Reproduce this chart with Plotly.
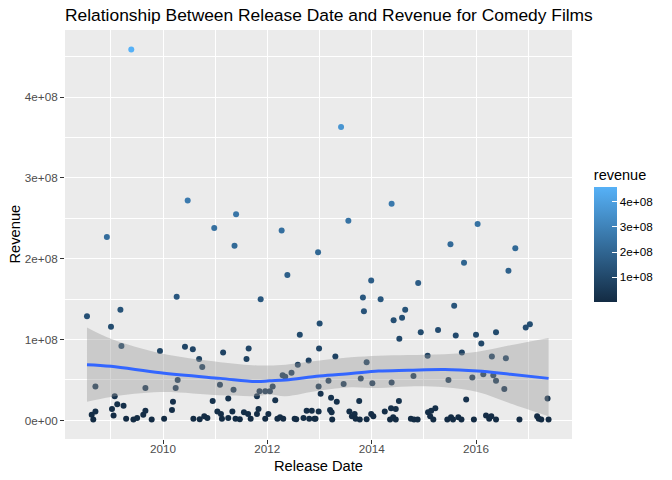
import plotly.graph_objects as go

release_dates = [
    "2008-07-17", "2008-09-14", "2008-08-19", "2008-08-30", "2008-09-14", "2008-12-03",
    "2009-01-01", "2009-01-08", "2009-01-19", "2009-01-27", "2009-02-14", "2009-03-08",
    "2009-03-15", "2009-03-30", "2009-04-17", "2009-05-23", "2009-06-07", "2009-07-03",
    "2009-08-15", "2009-08-30", "2009-08-30", "2009-10-13", "2009-12-10", "2010-01-08",
    "2010-03-04", "2010-03-11", "2010-03-30", "2010-04-06", "2010-04-13", "2010-06-03",
    "2010-06-22", "2010-07-28", "2010-08-01", "2010-09-10", "2010-09-14", "2010-10-02",
    "2010-10-16", "2010-11-07", "2010-12-14", "2010-12-25", "2011-01-16", "2011-02-03",
    "2011-02-10", "2011-02-17", "2011-02-25", "2011-04-02", "2011-05-01", "2011-04-02",
    "2011-05-09", "2011-05-16", "2011-05-27", "2011-05-23", "2011-06-22", "2011-07-21",
    "2011-08-19", "2011-08-08", "2011-08-23", "2011-09-06", "2011-10-20", "2011-10-20",
    "2011-10-31", "2011-11-07", "2011-11-15", "2011-12-17", "2011-12-17", "2012-01-08",
    "2012-01-19", "2012-02-07", "2012-02-25", "2012-03-11", "2012-03-30", "2012-04-10",
    "2012-04-21", "2012-04-17", "2012-05-05", "2012-05-20", "2012-06-18", "2012-07-10",
    "2012-07-21", "2012-08-01", "2012-08-15", "2012-09-10", "2012-10-02", "2012-10-16",
    "2012-10-20", "2012-11-07", "2012-11-26", "2012-12-21", "2012-12-25", "2012-12-28",
    "2013-01-01", "2013-01-08", "2012-12-25", "2012-12-03", "2013-03-04", "2013-03-22",
    "2013-03-15", "2013-03-26", "2013-03-30", "2013-04-21", "2013-05-01", "2013-05-31",
    "2013-06-18", "2013-07-28", "2013-08-15", "2013-09-03", "2013-09-10", "2013-07-21",
    "2013-10-05", "2013-10-09", "2013-10-16", "2013-10-31", "2013-11-07", "2013-11-26",
    "2013-11-26", "2013-12-28", "2014-01-05", "2013-12-28", "2014-01-12", "2014-03-04",
    "2014-04-02", "2014-05-09", "2014-05-16", "2014-05-20", "2014-05-20", "2014-05-31",
    "2014-06-03", "2014-06-18", "2014-06-18", "2014-07-10", "2014-07-13", "2014-08-01",
    "2014-08-23", "2014-10-02", "2014-10-20", "2014-10-24", "2014-11-18", "2014-11-22",
    "2014-12-10", "2015-01-27", "2015-01-30", "2015-02-21", "2015-03-22", "2015-03-08",
    "2015-02-14", "2015-04-10", "2015-06-22", "2015-06-14", "2015-07-10", "2015-07-06",
    "2015-07-24", "2015-08-01", "2015-08-12", "2015-08-30", "2015-09-21", "2015-09-24",
    "2015-10-09", "2015-10-24", "2015-12-17", "2015-12-06", "2016-01-01", "2016-01-12",
    "2016-02-07", "2016-02-21", "2016-03-11", "2016-04-02", "2016-04-17", "2016-04-21",
    "2016-05-01", "2016-05-20", "2016-05-20", "2016-05-20", "2016-07-17", "2016-07-28",
    "2016-08-15", "2016-10-02", "2016-10-31", "2016-12-14", "2017-01-12", "2017-03-04",
    "2017-03-15", "2017-04-02", "2017-05-16", "2017-05-23",
]
revenues = [
    129e6, 42e6, 7e6, 1e6, 11e6, 227e6,
    116e6, 14e6, 6e6, 30e6, 20e6, 137e6,
    92e6, 18e6, 2e6, 459e6, 1e6, 3e6,
    7e6, 12e6, 40e6, 1e6, 86e6, 2e6,
    13e6, 23e6, 40e6, 153e6, 50e6, 91e6,
    272e6, 88e6, 2e6, 76e6, 1.5e6, 66e6,
    5e6, 3e6, 24e6, 238e6, 11e6, 44e6,
    8e6, 2e6, 84e6, 27e6, 11e6, 3e6,
    38e6, 216e6, 255e6, 2e6, 1.5e6, 10e6,
    8e6, 76e6, 89e6, 2e6, 30e6, 8e6,
    14e6, 36e6, 150e6, 36e6, 2e6, 8e6,
    36e6, 42e6, 25e6, 2e6, 4e6, 235e6,
    2e6, 56e6, 54e6, 180e6, 59e6, 2e6,
    1.5e6, 69e6, 106e6, 3e6, 12e6, 74e6,
    2e6, 12e6, 2e6, 208e6, 42e6, 89e6,
    120e6, 33e6, 11e6, 2e6, 49e6, 28e6,
    13e6, 10e6, 1e6, 79e6, 23e6, 363e6,
    45e6, 11e6, 5e6, 8e6, 2e6, 247e6,
    24e6, 1e6, 52e6, 152e6, 135e6, 1.5e6,
    72e6, 173e6, 46e6, 8e6, 5e6, 150e6,
    11e6, 1e6, 15e6, 47e6, 268e6, 4e6,
    124e6, 14e6, 1e6, 24e6, 101e6, 127e6,
    137e6, 2e6, 55e6, 1e6, 1e6, 170e6,
    109e6, 80e6, 10e6, 12e6, 15e6, 1e6,
    5e6, 112e6, 50e6, 1e6, 4e6, 218e6,
    1e6, 142e6, 105e6, 4e6, 1e6, 84e6,
    195e6, 26e6, 1e6, 53e6, 106e6, 243e6,
    95e6, 57e6, 6e6, 2e6, 5e6, 79e6,
    56e6, 49e6, 109e6, 1e6, 39e6, 77e6,
    185e6, 213e6, 1e6, 115e6, 119e6, 5e6,
    2e6, 1e6, 27e6, 1e6,
]

# loess smooth with its confidence band
smooth_dates = [
    "2008-07-17", "2009-01-01", "2009-12-13", "2011-02-05", "2011-10-20",
    "2012-01-15", "2012-05-08", "2013-01-01", "2013-08-08", "2014-02-17",
    "2014-09-14", "2015-05-27", "2016-01-12", "2016-08-29", "2017-05-23",
]
smooth_fit = [69e6, 67e6, 59e6, 52e6, 48e6, 49e6, 50e6, 55e6, 58e6, 61e6, 62e6, 63e6, 61e6, 57e6, 52e6]
smooth_lower = [23e6, 29e6, 35e6, 31e6, 30e6, 32e6, 30e6, 37e6, 41e6, 40e6, 42e6, 41e6, 35e6, 21e6, 5e6]
smooth_upper = [115e6, 101e6, 83e6, 72e6, 68e6, 68e6, 69e6, 74e6, 78e6, 80e6, 81e6, 82e6, 85e6, 93e6, 102e6]

y_tick_vals = [0, 1e8, 2e8, 3e8, 4e8]
y_tick_text = ["0e+00", "1e+08", "2e+08", "3e+08", "4e+08"]
bar_tick_vals = [1e8, 2e8, 3e8, 4e8]
bar_tick_text = ["1e+08", "2e+08", "3e+08", "4e+08"]

FONT = "Liberation Sans, Arial, Helvetica, sans-serif"

fig = go.Figure()

fig.add_trace(go.Scatter(
    x=release_dates, y=revenues, mode="markers", showlegend=False,
    marker=dict(
        size=6, color=revenues,
        colorscale=[[0, "#132B43"], [1, "#56B1F7"]],
        cmin=min(revenues), cmax=max(revenues),
        showscale=True,
        colorbar=dict(
            title=dict(text="revenue", side="top", font=dict(size=14.5, color="black", family=FONT)),
            xref="paper", x=1.043, xanchor="left", xpad=0,
            # len counts the title too, so the box starts above the bar
            yref="paper", y=0.6675, yanchor="top", ypad=0,
            thickness=23, len=136, lenmode="pixels",
            outlinewidth=0,
            tickvals=bar_tick_vals, ticktext=bar_tick_text,
            ticks="inside", ticklen=5, tickcolor="white", tickwidth=1,
            tickfont=dict(size=11.7, color="black", family=FONT),
        ),
    ),
))

fig.add_trace(go.Scatter(
    x=smooth_dates, y=smooth_upper, mode="lines", showlegend=False,
    line=dict(width=0, shape="spline"), hoverinfo="skip",
))
fig.add_trace(go.Scatter(
    x=smooth_dates, y=smooth_lower, mode="lines", showlegend=False,
    line=dict(width=0, shape="spline"), fill="tonexty",
    fillcolor="rgba(153,153,153,0.4)", hoverinfo="skip",
))
fig.add_trace(go.Scatter(
    x=smooth_dates, y=smooth_fit, mode="lines", showlegend=False,
    line=dict(color="#3366FF", width=3, shape="spline"),
))

axis_style = dict(
    showgrid=True, gridcolor="white", gridwidth=1.1,
    zeroline=False, showline=False,
    ticks="outside", ticklen=4, tickcolor="#333333", tickwidth=1,
    tickfont=dict(size=11.7, color="#4D4D4D", family=FONT),
)

fig.update_layout(
    width=672, height=480,
    margin=dict(l=65, r=100, t=30, b=41),
    paper_bgcolor="white", plot_bgcolor="#EBEBEB",
    font=dict(family=FONT),
    title=dict(
        text="Relationship Between Release Date and Revenue for Comedy Films",
        x=65 / 672, xref="container", xanchor="left",
        y=1 - 15 / 480, yref="container", yanchor="middle",
        font=dict(size=17.4, color="black", family=FONT),
    ),
    xaxis=dict(
        axis_style, type="date",
        range=["2008-02-14", "2017-11-03"],
        tick0="2010-01-01", dtick="M24", tickformat="%Y",
        ticklabelstandoff=-5,
        minor=dict(tick0="2009-01-01", dtick="M12", showgrid=True,
                   gridcolor="white", gridwidth=0.55, ticks=""),
    ),
    yaxis=dict(
        axis_style,
        range=[-23e6, 483e6],
        tickvals=y_tick_vals, ticktext=y_tick_text,
        minor=dict(tickvals=[5e7, 1.5e8, 2.5e8, 3.5e8, 4.5e8], showgrid=True,
                   gridcolor="white", gridwidth=0.55, ticks=""),
    ),
    annotations=[
        dict(text="Release Date", xref="paper", yref="paper", x=0.5, y=0,
             yshift=-27, xanchor="center", yanchor="middle", showarrow=False,
             font=dict(size=14.7, color="black", family=FONT)),
        dict(text="Revenue", xref="paper", yref="paper", x=0, y=0.5,
             xshift=-51, xanchor="center", yanchor="middle", showarrow=False,
             textangle=-90, font=dict(size=14.7, color="black", family=FONT)),
    ],
)

# the page's default 8px body margin would push the fixed-size figure off the window
fig.write_html("out.html", config={"displayModeBar": False},
               post_script="document.body.style.margin='0';")
